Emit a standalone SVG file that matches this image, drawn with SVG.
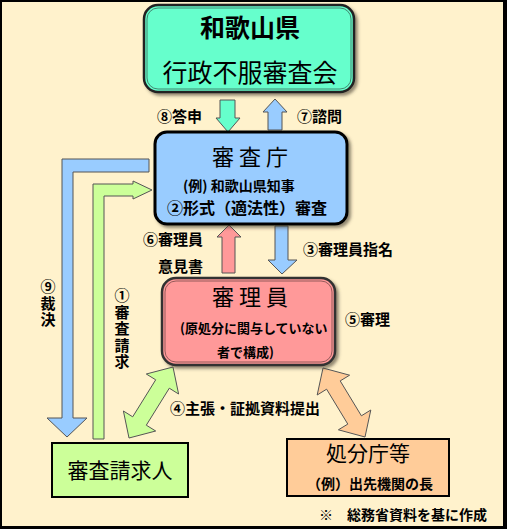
<svg xmlns="http://www.w3.org/2000/svg" width="507" height="529" viewBox="0 0 507 529">
<defs>
<filter id="sh" x="-10%" y="-10%" width="130%" height="130%">
<feDropShadow dx="2.5" dy="2.5" stdDeviation="1.5" flood-color="#4a4030" flood-opacity="0.6"/>
</filter>
<style>
text{font-family:"Noto Sans CJK JP","Noto Sans CJK SC",sans-serif;fill:#000}
.lb{font-size:15px;font-weight:bold}
.sm{font-size:14px;font-weight:bold}
.ttl{font-size:22px}
.arr{stroke:#555;stroke-width:1}
.vt{writing-mode:tb;letter-spacing:1.5px}
</style>
</defs>
<rect x="0" y="0" width="507" height="529" fill="#000"/>
<rect x="2" y="2" width="501" height="524" fill="#FFF2CC"/>

<g id="connectors">
<polygon class="arr" fill="#66FFCC" points="220,100 235,100 235,118 240,118 228,132 216,118 220,118"/>
<polygon class="arr" fill="#99CCFF" points="275,99 287,112 282,112 282,130 268,130 268,112 263,112"/>
<polygon class="arr" fill="#99CCFF" points="149,159 62,159 62,418 47,418 67,437 87,418 73,418 73,172 149,172"/>
<polygon class="arr" fill="#CCFF99" points="93,439 93,184 133,184 133,181 152,190 133,199 133,196 104,196 104,439"/>
<polygon class="arr" fill="#FF9999" points="229,225 241,237 235,237 235,273 222,273 222,237 217,237"/>
<polygon class="arr" fill="#99CCFF" points="275,226 288,226 288,260 297,260 282,274 268,260 275,260"/>
<polygon class="arr" fill="#CCFF99" stroke-width="1.2" points="173,367 178.6,394 169.3,388.2 146.3,425.2 155.7,431 129,438 123.4,411 132.7,416.8 155.7,379.8 146.3,374"/>
<polygon class="arr" fill="#FFCC99" stroke-width="1.2" points="323,368 317.2,395 326.6,389.2 347.8,424.1 338.4,429.8 365,437 370.8,410 361.4,415.8 340.2,380.9 349.6,375.2"/>
<text class="lb" x="157" y="122">⑧答申</text>
<text class="lb" x="297" y="122">⑦諮問</text>
<text class="lb vt" x="48" y="279">⑨裁決</text>
<text class="lb vt" x="122" y="288">①審査請求</text>
<text class="lb" x="203" y="245" text-anchor="end">⑥審理員</text>
<text class="lb" x="203" y="272" text-anchor="end">意見書</text>
<text class="lb" x="303" y="255">③審理員指名</text>
<text class="lb" x="345" y="325">⑤審理</text>
<text class="lb" x="170" y="414">④主張・証拠資料提出</text>
</g>

<g id="node-council">
<rect x="144" y="5" width="210" height="87" rx="14" fill="#66FFCC" stroke="#222" stroke-width="2.5" filter="url(#sh)"/>
<rect x="147" y="8" width="204" height="81" rx="11" fill="none" stroke="#3a6a5a" stroke-width="0.8"/>
<text x="250" y="37" text-anchor="middle" font-size="25" font-weight="bold">和歌山県</text>
<text x="250" y="82" text-anchor="middle" font-size="25">行政不服審査会</text>
</g>

<g id="node-agency">
<rect x="155" y="132" width="192" height="92" rx="12" fill="#99CCFF" stroke="#000" stroke-width="3" filter="url(#sh)"/>
<text class="ttl" x="252.5" y="165" text-anchor="middle" letter-spacing="5">審査庁</text>
<text class="sm" x="183" y="191">(例) 和歌山県知事</text>
<text x="167" y="214" font-size="16" font-weight="bold">②形式（適法性）審査</text>
</g>

<g id="node-examiner">
<rect x="162" y="278" width="173" height="87" rx="14" fill="#FF9999" stroke="#333" stroke-width="2.5" filter="url(#sh)"/>
<rect x="165" y="281" width="167" height="81" rx="11" fill="none" stroke="#7a4a4a" stroke-width="0.8"/>
<text class="ttl" x="252.5" y="305" text-anchor="middle" letter-spacing="5">審理員</text>
<text x="180" y="333" font-size="13" font-weight="bold">(原処分に関与していない</text>
<text x="217" y="357" font-size="13" font-weight="bold">者で構成)</text>
</g>

<g id="node-requester">
<rect x="52" y="443" width="136" height="54" fill="#CCFF99" stroke="#000" stroke-width="2"/>
<text x="120" y="478" text-anchor="middle" font-size="21">審査請求人</text>
</g>

<g id="node-disposer">
<rect x="287" y="439" width="162" height="57" fill="#FFCC99" stroke="#000" stroke-width="2"/>
<text x="368" y="461" text-anchor="middle" font-size="21">処分庁等</text>
<text class="sm" x="307" y="489">（例）出先機関の長</text>
</g>

<g id="note">
<text class="sm" x="319" y="520">※</text>
<text class="sm" x="347" y="520">総務省資料を基に作成</text>
</g>
</svg>
